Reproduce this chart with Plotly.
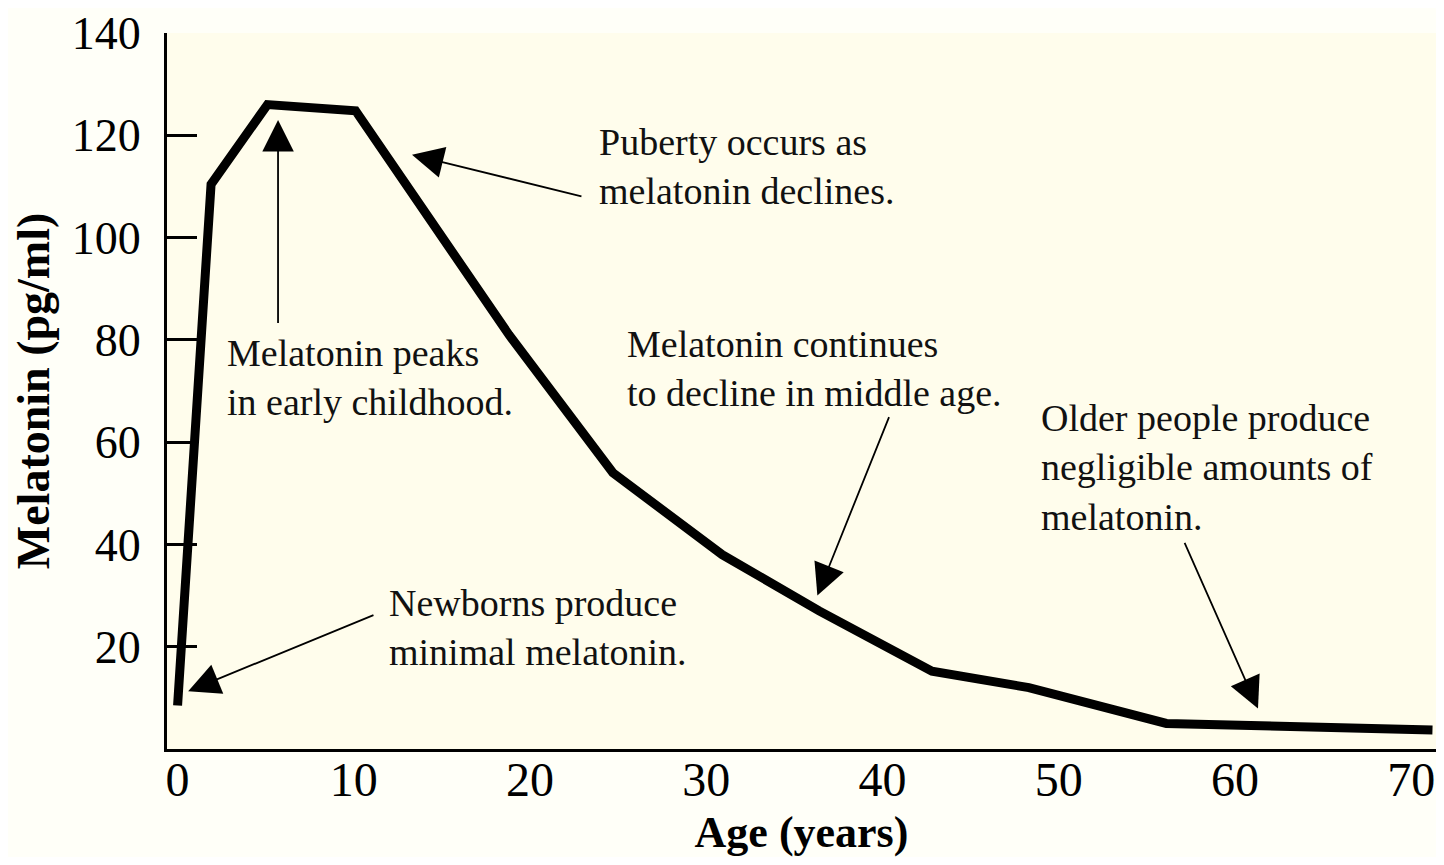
import plotly.graph_objects as go

# melatonin curve
age = [0, 1.9, 5.1, 10.1, 18.8, 24.7, 30.9, 36.4, 42.8, 48.3, 56.1, 63.3, 71.2]
melatonin = [8.5, 110.4, 126, 124.8, 81, 54, 38, 27, 15.2, 12, 5, 4.2, 3.7]

x_ticks = [0, 10, 20, 30, 40, 50, 60, 70]
y_ticks = [20, 40, 60, 80, 100, 120, 140]

# (text, x, y) for the notes, anchored at left/middle
notes = [
    ("Puberty occurs as<br>melatonin declines.", 23.8, 113.8),
    ("Melatonin peaks<br>in early childhood.", 2.7, 72.7),
    ("Melatonin continues<br>to decline in middle age.", 25.4, 74.4),
    ("Older people produce<br>negligible amounts of<br>melatonin.", 48.9, 55),
    ("Newborns produce<br>minimal melatonin.", 11.9, 23.8),
]

# (tail_x, tail_y, tip_x, tip_y)
arrows = [
    (11.2, 26.3, 0.6, 11.3),
    (5.7, 83, 5.7, 123),
    (23.0, 108, 13.3, 116.2),
    (40.4, 65.2, 36.3, 30),
    (57.1, 40.6, 61.3, 7.9),
]

serif = "Liberation Serif, Times New Roman, serif"

fig = go.Figure()

fig.add_trace(go.Scatter(
    x=age,
    y=melatonin,
    mode="lines",
    line=dict(color="black", width=9),
    showlegend=False,
    hoverinfo="x+y",
))

for text, x, y in notes:
    fig.add_annotation(
        x=x, y=y, xref="x", yref="y",
        text=text, showarrow=False,
        xanchor="left", yanchor="middle", align="left",
        font=dict(family=serif, size=38, color="#111111"),
    )

for tx, ty, hx, hy in arrows:
    fig.add_annotation(
        x=hx, y=hy, ax=tx, ay=ty,
        xref="x", yref="y", axref="x", ayref="y",
        text="", showarrow=True,
        arrowhead=2, arrowsize=3.5, arrowwidth=1.8,
        arrowcolor="black", standoff=0,
    )

# page body has an 8px margin, so the figure is sized to fit inside it
fig.update_layout(
    width=1428,
    height=849,
    margin=dict(l=159, r=0, t=25, b=108),
    plot_bgcolor="#FFFDEC",
    paper_bgcolor="#FFFFF8",
    font=dict(family=serif, color="black"),
    showlegend=False,
)

fig.update_xaxes(
    range=[-0.6, 71.4],
    tickvals=x_ticks,
    ticktext=[str(v) for v in x_ticks],
    ticks="",
    showline=True, linewidth=3, linecolor="black",
    showgrid=False, zeroline=False,
    tickfont=dict(family=serif, size=48, color="black"),
    ticklabelstandoff=-14,
    ticklabeloverflow="allow",
    automargin=False,
    title=dict(text="<b>Age (years)</b>", font=dict(family=serif, size=44, color="black"), standoff=20),
)

fig.update_yaxes(
    range=[0, 140],
    tickvals=y_ticks,
    ticktext=[str(v) for v in y_ticks],
    ticks="inside", ticklen=30, tickwidth=3, tickcolor="black",
    showline=True, linewidth=3, linecolor="black",
    showgrid=False, zeroline=False,
    tickfont=dict(family=serif, size=46, color="black"),
    ticklabelstandoff=14,
    ticklabeloverflow="allow",
    automargin=False,
    title=dict(text="<b>Melatonin (pg/ml)</b>", font=dict(family=serif, size=46, color="black"), standoff=10),
)

fig.write_html("out.html")
